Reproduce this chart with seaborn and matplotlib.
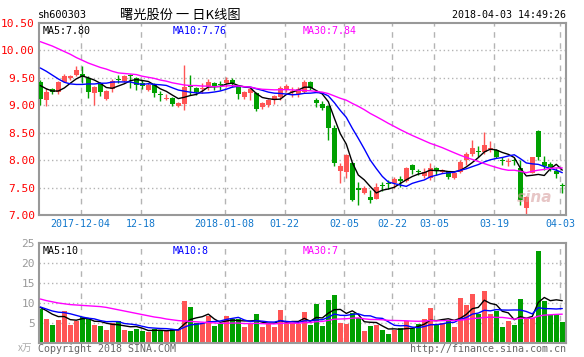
import numpy as np
import pandas as pd
import matplotlib
matplotlib.use("Agg")
import matplotlib.pyplot as plt
import seaborn as sns

# daily candles (index 0 = 2017-11-23, 87 = 2018-04-03)
opens = [9.42, 9.10, 9.29, 9.25, 9.43, 9.50, 9.55, 9.57, 9.49, 9.22,
         9.40, 9.11, 9.29, 9.48, 9.45, 9.55, 9.50, 9.41, 9.28, 9.39,
         9.20, 9.12, 9.14, 8.99, 9.02, 9.37, 9.32, 9.30, 9.34, 9.41,
         9.38, 9.40, 9.46, 9.35, 9.15, 9.22, 9.23, 8.96, 9.01, 9.10,
         9.16, 9.30, 9.24, 9.20, 9.24, 9.43, 9.10, 9.03, 8.98, 8.59,
         7.80, 7.79, 7.95, 7.50, 7.41, 7.33, 7.30, 7.53, 7.57, 7.58,
         7.66, 7.62, 7.91, 7.80, 7.71, 7.67, 7.86, 7.78, 7.79, 7.68,
         7.79, 8.01, 8.12, 8.16, 8.15, 8.21, 8.18, 8.01, 7.96, 8.00,
         7.85, 7.12, 7.77, 8.54, 7.97, 7.93, 7.81, 7.53]
highs = [9.46, 9.31, 9.31, 9.45, 9.57, 9.56, 9.72, 9.71, 9.54, 9.36,
         9.42, 9.28, 9.48, 9.56, 9.56, 9.57, 9.52, 9.46, 9.40, 9.41,
         9.26, 9.20, 9.16, 9.06, 9.73, 9.55, 9.34, 9.40, 9.48, 9.43,
         9.45, 9.52, 9.50, 9.37, 9.26, 9.32, 9.25, 9.06, 9.12, 9.19,
         9.36, 9.38, 9.34, 9.33, 9.46, 9.44, 9.13, 9.07, 9.00, 8.64,
         7.95, 8.11, 7.96, 7.61, 7.53, 7.45, 7.58, 7.60, 7.63, 7.70,
         7.71, 7.87, 7.93, 7.83, 7.85, 7.95, 7.87, 7.84, 7.81, 7.78,
         8.00, 8.15, 8.37, 8.26, 8.52, 8.34, 8.20, 8.06, 8.03, 8.04,
         8.00, 7.35, 8.06, 8.55, 8.07, 7.96, 7.86, 7.58]
lows = [9.00, 8.99, 9.20, 9.20, 9.42, 9.47, 9.54, 9.40, 9.14, 9.00,
        9.17, 9.10, 9.25, 9.40, 9.43, 9.32, 9.27, 9.29, 9.26, 9.16,
        9.08, 9.10, 8.99, 8.96, 8.91, 9.19, 9.19, 9.23, 9.27, 9.28,
        9.27, 9.33, 9.33, 9.11, 9.11, 9.10, 8.90, 8.93, 8.97, 9.02,
        9.10, 9.24, 9.16, 9.16, 9.22, 9.27, 8.96, 8.92, 8.37, 7.89,
        7.59, 7.67, 7.26, 7.18, 7.38, 7.22, 7.29, 7.43, 7.48, 7.49,
        7.51, 7.60, 7.75, 7.73, 7.67, 7.64, 7.73, 7.76, 7.66, 7.66,
        7.77, 7.91, 8.07, 8.06, 8.12, 8.14, 8.04, 7.91, 7.89, 7.91,
        7.18, 7.01, 7.76, 8.00, 7.82, 7.80, 7.68, 7.41]
closes = [9.11, 9.25, 9.25, 9.43, 9.54, 9.54, 9.65, 9.52, 9.25, 9.34,
          9.25, 9.26, 9.45, 9.46, 9.54, 9.53, 9.37, 9.36, 9.37, 9.22,
          9.18, 9.14, 9.02, 9.05, 9.34, 9.34, 9.24, 9.32, 9.43, 9.36,
          9.37, 9.46, 9.40, 9.21, 9.24, 9.29, 8.93, 9.04, 9.10, 9.17,
          9.32, 9.35, 9.26, 9.29, 9.43, 9.32, 9.04, 8.95, 8.59, 7.94,
          7.89, 8.09, 7.27, 7.45, 7.50, 7.28, 7.51, 7.52, 7.56, 7.66,
          7.62, 7.85, 7.82, 7.78, 7.79, 7.85, 7.80, 7.82, 7.70, 7.77,
          7.97, 8.12, 8.22, 8.15, 8.28, 8.23, 8.05, 7.99, 7.98, 7.99,
          7.27, 7.33, 8.05, 8.06, 7.89, 7.88, 7.74, 7.52]
# volume, x 10k
volumes = [8.5, 6.1, 4.6, 5.8, 8.1, 4.6, 5.4, 6.5, 6.1, 4.6,
           4.3, 3.3, 5.0, 5.6, 3.3, 3.1, 3.6, 2.9, 2.7, 3.5,
           3.3, 2.9, 3.5, 3.5, 10.4, 9.0, 5.0, 5.0, 6.7, 4.3,
           4.8, 6.7, 6.1, 6.1, 3.9, 4.8, 7.3, 3.9, 4.8, 3.9,
           8.2, 5.0, 5.0, 4.8, 7.8, 4.6, 9.8, 4.3, 10.8, 12.1,
           5.0, 4.8, 7.5, 6.2, 3.1, 4.3, 4.5, 3.3, 2.3, 3.3,
           3.7, 5.4, 3.7, 4.7, 6.0, 8.7, 4.8, 5.1, 5.7, 4.0,
           11.3, 9.6, 12.3, 7.3, 13.0, 7.3, 7.9, 4.1, 5.4, 4.4,
           11.1, 6.0, 6.3, 22.9, 10.6, 7.1, 7.1, 5.2]

# moving average values at the left edge (their windows start before the chart)
ma5_head = [9.36, 9.30, 9.26, 9.26]
ma10_head = [9.68, 9.62, 9.55, 9.48, 9.42, 9.39, 9.38, 9.38, 9.39]
ma30_head = [10.16, 10.12, 10.08, 10.03, 9.98, 9.93, 9.87, 9.82, 9.77, 9.73,
             9.69, 9.66, 9.62, 9.59, 9.58, 9.57, 9.56, 9.53, 9.51, 9.49,
             9.46, 9.44, 9.41, 9.39, 9.37, 9.36, 9.36, 9.35, 9.35]
vma5_head = [8.9, 8.1, 7.2, 6.6]
vma10_head = [9.0, 8.5, 8.0, 7.7, 7.6, 7.3, 6.9, 6.5, 6.2]
vma30_head = [11.0, 10.6, 10.3, 10.0, 9.8, 9.6, 9.5, 9.4, 9.3, 9.2,
              9.1, 8.9, 8.6, 8.3, 8.0, 7.7, 7.4, 7.1, 6.8, 6.5,
              6.3, 6.0, 5.8, 5.6, 5.5, 5.4, 5.3, 5.2, 5.1]

tick_idx = [7, 17, 31, 41, 51, 59, 66, 76, 87]
tick_labels = ["2017-12-04", "12-18", "2018-01-08", "01-22", "02-05",
               "02-22", "03-05", "03-19", "04-03"]

RED = "#ff5555"
GREEN = "#00a000"
GRID = "#b4b4b4"
MONO = "DejaVu Sans Mono"

df = pd.DataFrame({"open": opens, "high": highs, "low": lows,
                   "close": closes, "vol": volumes})
df["idx"] = np.arange(len(df))
df["dir"] = np.where(df["close"] >= df["open"], "up", "down")


def moving(series, w, head):
    m = series.rolling(w).mean().to_numpy()
    m[:w - 1] = head
    return m


df["ma5"] = moving(df["close"], 5, ma5_head)
df["ma10"] = moving(df["close"], 10, ma10_head)
df["ma30"] = moving(df["close"], 30, ma30_head)
df["vma5"] = moving(df["vol"], 5, vma5_head)
df["vma10"] = moving(df["vol"], 10, vma10_head)
df["vma30"] = moving(df["vol"], 30, vma30_head)

sns.set_style("white")
plt.rcParams["font.family"] = [MONO, "Noto Sans CJK SC"]

fig = plt.figure(figsize=(5.84, 3.57), dpi=100)
ax = fig.add_axes([39 / 584, 1 - 215 / 357, 527 / 584, 192 / 357])
axv = fig.add_axes([39 / 584, 1 - 343 / 357, 527 / 584, 100 / 357])

xlim = (-0.22, 87.62)
grid_x = [t - 0.3 for t in tick_idx]

# price panel
for p in [7.5, 8.0, 8.5, 9.0, 9.5, 10.0]:
    ax.axhline(p, color=GRID, lw=1, ls=(0, (1, 2)), zorder=0)
for gx in grid_x:
    ax.axvline(gx, color=GRID, lw=1, ls=(0, (4, 4)), zorder=0)

colors = np.where(df["dir"] == "up", RED, GREEN)
ax.vlines(df["idx"], df["low"], df["high"], colors=colors, lw=1, zorder=2)
body = np.maximum((df["close"] - df["open"]).abs(), 0.02)
ax.bar(df["idx"], body, bottom=np.minimum(df["open"], df["close"]),
       width=0.78, color=colors, linewidth=0, zorder=3)

sns.lineplot(x=df["idx"], y=df["ma5"], color="black", lw=1, ax=ax, zorder=4)
sns.lineplot(x=df["idx"], y=df["ma10"], color="#0000ff", lw=1, ax=ax, zorder=4)
sns.lineplot(x=df["idx"], y=df["ma30"], color="#ff00ff", lw=1, ax=ax, zorder=4)

ax.set_xlim(*xlim)
ax.set_ylim(7.0, 10.5)
ax.set_yticks(np.arange(7.0, 10.51, 0.5))
ax.set_yticklabels([f"{v:.2f}" for v in np.arange(7.0, 10.51, 0.5)],
                   color="#ff0000", fontsize=8, family=MONO)
ax.set_xticks(grid_x)
ax.set_xticklabels(tick_labels, color="#1177cc", fontsize=7.2, family=MONO)
ax.tick_params(length=0, pad=3)
ax.set_xlabel("")
ax.set_ylabel("")

ax.text(0.006, 0.985, "MA5:7.80", transform=ax.transAxes, color="black",
        fontsize=7.2, va="top", ha="left", family=MONO)
ax.text(0.253, 0.985, "MA10:7.76", transform=ax.transAxes, color="#0000ff",
        fontsize=7.2, va="top", ha="left", family=MONO)
ax.text(0.5, 0.985, "MA30:7.84", transform=ax.transAxes, color="#ff00ff",
        fontsize=7.2, va="top", ha="left", family=MONO)
ax.text(0.975, 0.09, "sina", transform=ax.transAxes, color="#d8a0a0",
        fontsize=11, fontweight="bold", fontstyle="italic", alpha=0.6,
        ha="right", va="center", family="DejaVu Sans")

# volume panel
for v in [5, 10, 15, 20]:
    axv.axhline(v, color=GRID, lw=1, ls=(0, (1, 2)), zorder=0)
for gx in grid_x:
    axv.axvline(gx, color=GRID, lw=1, ls=(0, (4, 4)), zorder=0)

sns.barplot(data=df, x="idx", y="vol", hue="dir",
            palette={"up": RED, "down": GREEN}, native_scale=True,
            width=0.85, dodge=False, errorbar=None, saturation=1,
            linewidth=0, legend=False, ax=axv, zorder=2)
sns.lineplot(x=df["idx"], y=df["vma5"], color="black", lw=1, ax=axv, zorder=4)
sns.lineplot(x=df["idx"], y=df["vma10"], color="#0000ff", lw=1, ax=axv, zorder=4)
sns.lineplot(x=df["idx"], y=df["vma30"], color="#ff00ff", lw=1, ax=axv, zorder=4)

axv.set_xlim(*xlim)
axv.set_ylim(0, 25)
axv.set_yticks([5, 10, 15, 20, 25])
axv.set_yticklabels(["5", "10", "15", "20", "25"], color="#999999",
                    fontsize=8, family=MONO)
axv.set_xticks([])
axv.tick_params(length=0, pad=3)
axv.set_xlabel("")
axv.set_ylabel("")

axv.text(0.006, 0.97, "MA5:10", transform=axv.transAxes, color="black",
         fontsize=7.2, va="top", ha="left", family=MONO)
axv.text(0.253, 0.97, "MA10:8", transform=axv.transAxes, color="#0000ff",
         fontsize=7.2, va="top", ha="left", family=MONO)
axv.text(0.5, 0.97, "MA30:7", transform=axv.transAxes, color="#ff00ff",
         fontsize=7.2, va="top", ha="left", family=MONO)

for a in (ax, axv):
    for s in a.spines.values():
        s.set_color("#999999")
        s.set_linewidth(1.5)

# header and footer texts
fig.text(38 / 584, 1 - 15 / 357, "sh600303", fontsize=7.4, color="black",
         va="center", ha="left", family=MONO)
fig.text(180 / 584, 1 - 15 / 357, "曙光股份 一 日K线图", fontsize=9.5,
         color="black", va="center", ha="center",
         family=["Noto Sans CJK SC", "DejaVu Sans"])
fig.text(566 / 584, 1 - 15 / 357, "2018-04-03 14:49:26", fontsize=7.2,
         color="black", va="center", ha="right", family=MONO)
fig.text(18 / 584, 1 - 348 / 357, "x万", fontsize=7, color="#aaaaaa",
         va="center", ha="left", fontstyle="italic",
         family=["Noto Sans CJK SC", "DejaVu Sans"])
fig.text(38 / 584, 1 - 349 / 357, "Copyright 2018 SINA.COM", fontsize=7.2,
         color="#666666", va="center", ha="left", family=MONO)
fig.text(566 / 584, 1 - 349 / 357, "http://finance.sina.com.cn", fontsize=7.2,
         color="#666666", va="center", ha="right", family=MONO)

fig.savefig("out.png", dpi=100, facecolor="white")
